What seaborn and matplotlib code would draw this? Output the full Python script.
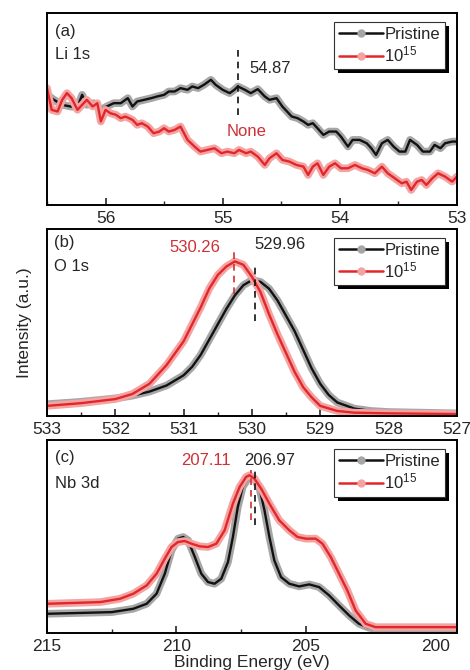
import numpy as np
import pandas as pd
import matplotlib
matplotlib.use("Agg")
import matplotlib.pyplot as plt
import seaborn as sns
from matplotlib.lines import Line2D
from matplotlib.patches import Rectangle

# (a) Li 1s
li_pris_x = [56.50, 56.44, 56.37, 56.30, 56.24, 56.20, 56.16, 56.10, 56.04, 55.99,
             55.93, 55.87, 55.81, 55.77, 55.73, 55.67, 55.61, 55.56, 55.50, 55.46,
             55.41, 55.36, 55.30, 55.26, 55.21, 55.16, 55.10, 55.06, 55.00, 54.94,
             54.90, 54.87, 54.81, 54.76, 54.70, 54.64, 54.60, 54.54, 54.49, 54.41,
             54.36, 54.31, 54.27, 54.23, 54.19, 54.14, 54.09, 54.03, 53.99, 53.93,
             53.89, 53.83, 53.77, 53.73, 53.69, 53.64, 53.59, 53.54, 53.49, 53.44,
             53.40, 53.34, 53.29, 53.23, 53.19, 53.14, 53.10, 53.04, 53.00]
li_pris_y = [330, 315, 300, 295, 293, 330, 300, 305, 285, 295,
             305, 305, 320, 295, 310, 315, 320, 325, 330, 340,
             340, 350, 345, 355, 350, 360, 375, 360, 345, 335,
             345, 355, 345, 335, 347, 325, 315, 320, 295, 265,
             260, 250, 240, 245, 230, 210, 220, 220, 205, 175,
             195, 195, 185, 170, 150, 185, 195, 175, 160, 160,
             195, 180, 160, 160, 180, 170, 185, 190, 190]
li_ion_x = [56.50, 56.46, 56.41, 56.37, 56.33, 56.29, 56.24, 56.20, 56.16, 56.11,
            56.07, 56.04, 56.00, 55.96, 55.91, 55.87, 55.83, 55.77, 55.73, 55.69,
            55.64, 55.59, 55.54, 55.50, 55.46, 55.41, 55.36, 55.30, 55.24, 55.19,
            55.13, 55.07, 55.01, 54.96, 54.90, 54.86, 54.80, 54.76, 54.70, 54.64,
            54.60, 54.54, 54.49, 54.43, 54.37, 54.31, 54.27, 54.23, 54.19, 54.14,
            54.09, 54.04, 53.99, 53.93, 53.87, 53.81, 53.76, 53.70, 53.64, 53.59,
            53.53, 53.47, 53.43, 53.39, 53.34, 53.30, 53.26, 53.21, 53.16, 53.10,
            53.04, 53.00]
li_ion_y = [350, 285, 280, 315, 335, 320, 285, 300, 315, 295,
            305, 250, 285, 275, 270, 260, 265, 255, 240, 245,
            235, 215, 220, 230, 220, 225, 235, 195, 175, 160,
            165, 170, 155, 160, 155, 165, 155, 160, 145, 120,
            140, 155, 135, 130, 120, 115, 90, 115, 125, 90,
            115, 125, 110, 110, 120, 110, 105, 95, 115, 95,
            80, 65, 70, 45, 70, 75, 60, 80, 95, 85,
            70, 85]

# (b) O 1s
o_pris_x = [533.0, 532.5, 532.0, 531.75, 531.5, 531.25, 531.0, 530.875, 530.75, 530.625,
            530.5, 530.375, 530.25, 530.125, 530.0, 529.875, 529.75, 529.625, 529.5, 529.375,
            529.25, 529.125, 529.0, 528.875, 528.75, 528.5, 528.25, 528.0, 527.5, 527.0]
o_pris_y = [35, 42, 52, 60, 72, 90, 120, 145, 180, 225,
            270, 315, 355, 385, 400, 395, 375, 340, 295, 250,
            195, 140, 95, 62, 40, 22, 15, 12, 10, 8]
o_ion_x = [533.0, 532.5, 532.0, 531.75, 531.5, 531.25, 531.0, 530.875, 530.75, 530.625,
           530.5, 530.375, 530.25, 530.125, 530.0, 529.875, 529.75, 529.625, 529.5, 529.375,
           529.25, 529.125, 529.0, 528.75, 528.5, 528.0, 527.5, 527.0]
o_ion_y = [30, 38, 50, 65, 95, 150, 220, 270, 320, 375,
           415, 440, 455, 445, 410, 365, 300, 240, 185, 130,
           85, 55, 30, 15, 10, 8, 7, 6]

# (c) Nb 3d
nb_pris_x = [215.0, 212.5, 211.67, 211.15, 210.77, 210.45, 210.19, 209.94, 209.74, 209.55,
             209.29, 209.04, 208.78, 208.53, 208.27, 208.01, 207.82, 207.63, 207.44, 207.24,
             207.12, 206.99, 206.79, 206.60, 206.41, 206.22, 205.96, 205.64, 205.26, 204.87,
             204.49, 204.10, 203.72, 203.33, 202.95, 202.56, 202.05, 200.77, 199.17]
nb_pris_y = [58, 63, 73, 88, 118, 178, 248, 283, 288, 278,
             228, 178, 153, 148, 163, 213, 288, 378, 438, 463,
             468, 463, 433, 368, 288, 218, 168, 148, 140, 146,
             138, 113, 83, 53, 28, 16, 11, 10, 10]
nb_ion_x = [215.0, 212.95, 212.18, 211.67, 211.15, 210.77, 210.45, 210.19, 209.94, 209.68,
            209.42, 209.10, 208.78, 208.46, 208.14, 207.82, 207.56, 207.31, 207.18, 206.99,
            206.73, 206.41, 206.03, 205.64, 205.32, 205.00, 204.62, 204.36, 204.04, 203.72,
            203.40, 203.08, 202.69, 202.31, 201.41, 199.17]
nb_ion_y = [88, 93, 103, 118, 143, 178, 223, 258, 273, 276,
            268, 260, 258, 268, 308, 388, 438, 468, 473, 463,
            433, 388, 338, 308, 288, 283, 283, 268, 228, 178,
            128, 68, 28, 18, 18, 18]

labels = ["Pristine", "10$^{15}$"]
ticks_a = [56, 55, 54, 53]
ticks_b = [533, 532, 531, 530, 529, 528, 527]
ticks_c = [215, 210, 205, 200]

BLACK, GRAY = "#111111", "#a6a6a6"
RED, PINK, TXTRED = "#e3262a", "#f4a3a3", "#cf3034"
FS = 12

sns.set_style("ticks")
plt.rcParams["font.family"] = ["Liberation Sans", "DejaVu Sans"]
plt.rcParams["mathtext.default"] = "regular"
plt.rcParams["axes.linewidth"] = 1.4

fig = plt.figure(figsize=(4.7, 6.7), dpi=100)
ax_a = fig.add_axes([0.100, 0.694, 0.872, 0.2866])
ax_b = fig.add_axes([0.100, 0.379, 0.872, 0.279])
ax_c = fig.add_axes([0.100, 0.055, 0.872, 0.288])


def draw(ax, x, y, color, halo):
    sns.lineplot(x=x, y=y, ax=ax, color=halo, lw=5.5, legend=False,
                 solid_capstyle="round", solid_joinstyle="round")
    sns.lineplot(x=x, y=y, ax=ax, color=color, lw=1.7, legend=False)


legends = []


def style(ax, xlim, ylim, ticks, minor):
    ax.set_xticks(ticks)
    ax.set_xlim(*xlim)
    ax.set_ylim(*ylim)
    ax.xaxis.set_minor_locator(matplotlib.ticker.MultipleLocator(minor))
    ax.set_yticks([])
    ax.set_xlabel("")
    ax.set_ylabel("")
    ax.tick_params(axis="x", which="major", direction="in", length=5, width=1.2,
                   labelsize=FS + 0.5, pad=4.5)
    ax.tick_params(axis="x", which="minor", direction="in", length=3, width=1.0)
    for s in ax.spines.values():
        s.set_visible(True)
        s.set_color("black")
    handles = [Line2D([], [], color=BLACK, lw=1.8, marker="o", ms=5,
                      mfc=GRAY, mec=GRAY),
               Line2D([], [], color=RED, lw=1.8, marker="o", ms=5,
                      mfc=PINK, mec=PINK)]
    leg = ax.legend(handles, labels, loc="upper right",
                    bbox_to_anchor=(0.971, 0.953), borderaxespad=0,
                    fontsize=FS, frameon=True, fancybox=False, framealpha=1,
                    handlelength=2.6, handletextpad=0.1, borderpad=0.3,
                    labelspacing=0.15, numpoints=1)
    leg.get_frame().set_edgecolor("#333333")
    leg.get_frame().set_linewidth(0.8)
    leg.set_zorder(10)
    legends.append((ax, leg))


# panel a
draw(ax_a, li_pris_x, li_pris_y, BLACK, GRAY)
draw(ax_a, li_ion_x, li_ion_y, RED, PINK)
style(ax_a, (56.5, 53.0), (0, 575), ticks_a, 0.5)
ax_a.plot([54.87, 54.87], [270, 470], ls=(0, (4, 3)), color=BLACK, lw=1.2)
ax_a.text(54.77, 410, "54.87", fontsize=FS, va="center", ha="left")
ax_a.text(54.80, 220, "None", fontsize=FS, va="center", ha="center", color=TXTRED)
ax_a.text(56.43, 520, "(a)", fontsize=FS, va="center", ha="left")
ax_a.text(56.43, 450, "Li 1s", fontsize=FS, va="center", ha="left")

# panel b
draw(ax_b, o_pris_x, o_pris_y, BLACK, GRAY)
draw(ax_b, o_ion_x, o_ion_y, RED, PINK)
style(ax_b, (533.0, 527.0), (0, 550), ticks_b, 0.5)
ax_b.plot([530.26, 530.26], [360, 485], ls=(0, (4, 3)), color=TXTRED, lw=1.2)
ax_b.plot([529.96, 529.96], [280, 450], ls=(0, (4, 3)), color=BLACK, lw=1.2)
ax_b.text(530.83, 495, "530.26", fontsize=FS, va="center", ha="center", color=TXTRED)
ax_b.text(529.59, 505, "529.96", fontsize=FS, va="center", ha="center")
ax_b.text(532.9, 512, "(b)", fontsize=FS, va="center", ha="left")
ax_b.text(532.9, 440, "O 1s", fontsize=FS, va="center", ha="left")
ax_b.set_ylabel("Intensity (a.u.)", fontsize=FS + 0.5, labelpad=11)

# panel c
draw(ax_c, nb_pris_x, nb_pris_y, BLACK, GRAY)
draw(ax_c, nb_ion_x, nb_ion_y, RED, PINK)
style(ax_c, (215.0, 199.17), (0, 578), ticks_c, 2.5)
ax_c.plot([207.11, 207.11], [338, 488], ls=(0, (4, 3)), color=TXTRED, lw=1.2)
ax_c.plot([206.97, 206.97], [323, 488], ls=(0, (4, 3)), color=BLACK, lw=1.2)
ax_c.text(208.85, 518, "207.11", fontsize=FS, va="center", ha="center", color=TXTRED)
ax_c.text(206.41, 518, "206.97", fontsize=FS, va="center", ha="center")
ax_c.text(214.7, 525, "(c)", fontsize=FS, va="center", ha="left")
ax_c.text(214.7, 448, "Nb 3d", fontsize=FS, va="center", ha="left")
ax_c.set_xlabel("Binding Energy (eV)", fontsize=FS + 0.5, labelpad=0.5)

# solid black drop shadow behind each legend box
fig.canvas.draw()
inv = fig.transFigure.inverted()
for ax, leg in legends:
    bb = leg.get_frame().get_window_extent()
    (x0, y0), (x1, y1) = inv.transform([[bb.x0 + 4, bb.y0 - 4], [bb.x1 + 4, bb.y1 - 4]])
    fig.add_artist(Rectangle((x0, y0), x1 - x0, y1 - y0, transform=fig.transFigure,
                             facecolor="black", edgecolor="none", zorder=9))
    leg.remove()
    fig.add_artist(leg)
    leg.set_zorder(11)

fig.savefig("out.png", dpi=100)
